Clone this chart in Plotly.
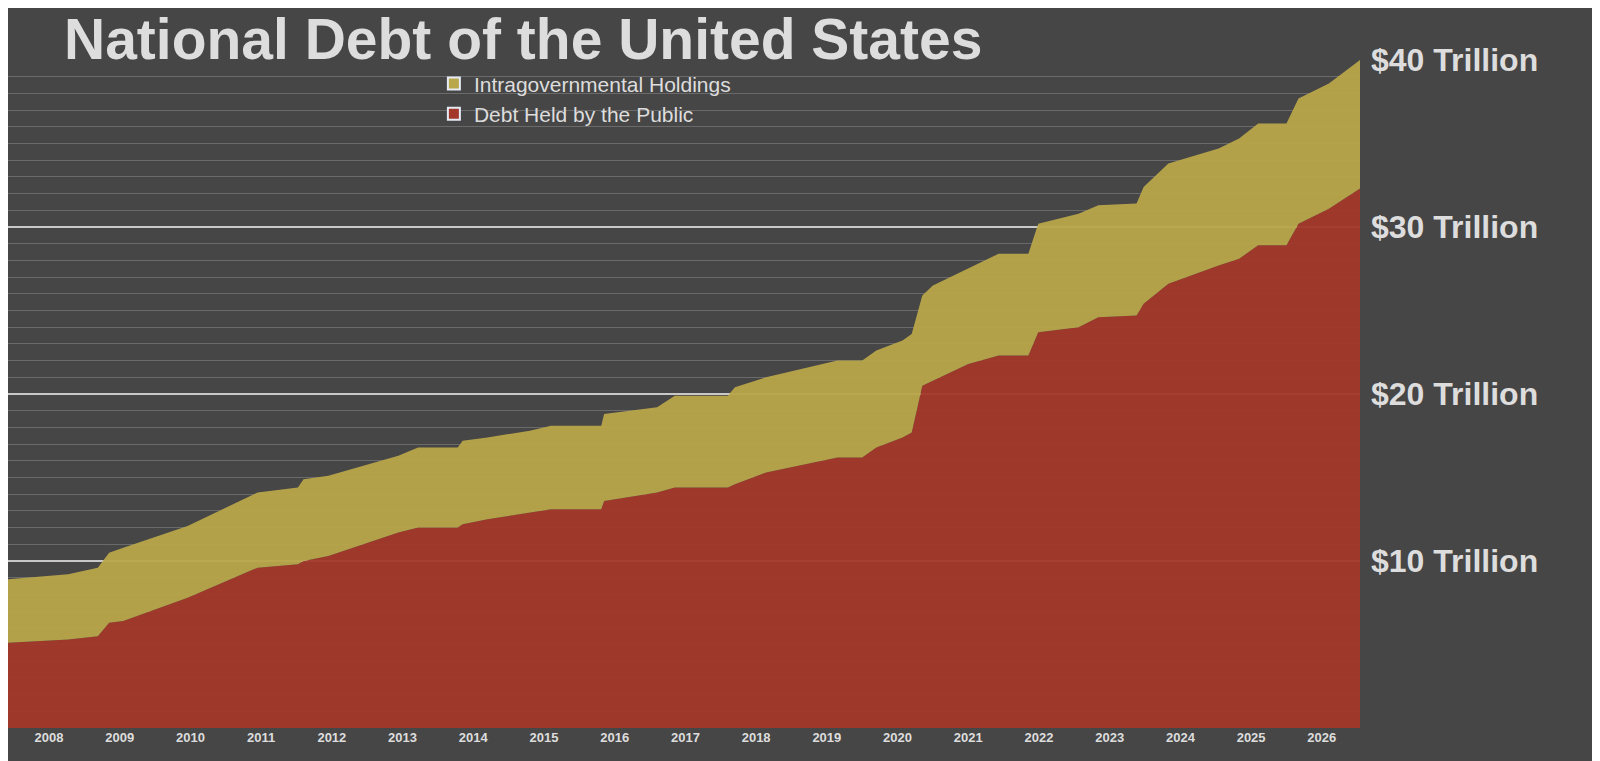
import plotly.graph_objects as go

years = [2007.42, 2008.27, 2008.69, 2008.85, 2009.05, 2009.96, 2010.95, 2011.52, 2011.6, 2011.95,
         2012.94, 2013.22, 2013.78, 2013.85, 2014.2, 2014.8, 2015.1, 2015.81, 2015.85, 2016.6,
         2016.85, 2017.6, 2017.7, 2018.14, 2019.15, 2019.5, 2019.7, 2020.07, 2020.2, 2020.35,
         2020.5, 2021.0, 2021.43, 2021.85, 2021.99, 2022.56, 2022.84, 2023.38, 2023.48, 2023.83,
         2024.54, 2024.83, 2025.1, 2025.5, 2025.67, 2026.1, 2026.54]
total = [8.9, 9.2, 9.6, 10.5, 10.8, 12.1, 14.1, 14.4, 14.9, 15.1,
         16.3, 16.8, 16.8, 17.2, 17.4, 17.8, 18.1, 18.1, 18.8, 19.2,
         19.9, 19.9, 20.4, 21.0, 22.0, 22.0, 22.6, 23.2, 23.6, 25.9,
         26.5, 27.5, 28.4, 28.4, 30.2, 30.8, 31.3, 31.4, 32.4, 33.8,
         34.7, 35.3, 36.2, 36.2, 37.7, 38.6, 40.0]
public = [5.1, 5.3, 5.5, 6.3, 6.4, 7.8, 9.6, 9.8, 10.0, 10.3,
          11.7, 12.0, 12.0, 12.2, 12.5, 12.9, 13.1, 13.1, 13.6, 14.1,
          14.4, 14.4, 14.6, 15.3, 16.2, 16.2, 16.8, 17.4, 17.7, 20.5,
          20.8, 21.8, 22.3, 22.3, 23.7, 24.0, 24.6, 24.7, 25.4, 26.6,
          27.7, 28.1, 28.9, 28.9, 30.2, 31.1, 32.3]
tick_years = list(range(2008, 2027))
y_ticks = [10, 20, 30, 40]
y_labels = ["<b>$10 Trillion</b>", "<b>$20 Trillion</b>", "<b>$30 Trillion</b>", "<b>$40 Trillion</b>"]

RED = "#a3382a"
GOLD = "#b9a74b"
fig = go.Figure()
fig.add_trace(go.Scatter(x=years, y=public, mode="lines", showlegend=False,
                         line=dict(width=0, color=RED), fill="tozeroy",
                         fillcolor="rgba(163,56,42,0.95)"))
fig.add_trace(go.Scatter(x=years, y=total, mode="lines", showlegend=False,
                         line=dict(width=0, color=GOLD), fill="tonexty",
                         fillcolor="rgba(185,167,75,0.95)"))
# legend entries as square swatches
fig.add_trace(go.Bar(x=[None], y=[None], name="Intragovernmental Holdings", marker_color=GOLD))
fig.add_trace(go.Bar(x=[None], y=[None], name="Debt Held by the Public", marker_color=RED))
fig.update_layout(
    width=1600, height=761, margin=dict(l=0, r=248, t=52, b=41),
    paper_bgcolor="#464646", plot_bgcolor="#464646",
    showlegend=True,
    legend=dict(x=0.315, y=0.995, xanchor="left", yanchor="top", traceorder="normal",
                font=dict(family="Liberation Sans, Arial", size=21, color="#dddddd"),
                bgcolor="rgba(0,0,0,0)", itemsizing="constant", tracegroupgap=0),
    title=dict(text="<b>National Debt of the United States</b>", x=0.035, xanchor="left",
               y=0.985, yanchor="top",
               font=dict(family="Liberation Sans, Arial", size=57, color="#dddddd")),
)
fig.update_xaxes(range=[2007.42, 2026.54], tickvals=tick_years, ticktext=["<b>%d</b>" % y for y in tick_years],
                 showgrid=False, zeroline=False, ticks="",
                 tickfont=dict(family="Liberation Sans, Arial", size=13, color="#dddddd"))
fig.update_yaxes(range=[0, 40], side="right", tickvals=y_ticks, ticktext=y_labels,
                 showgrid=True, gridcolor="#c8c8c8", gridwidth=2, zeroline=False,
                 minor=dict(dtick=1, showgrid=True, gridcolor="#6a6a6a", gridwidth=1),
                 tickfont=dict(family="Liberation Sans, Arial", size=32, color="#dddddd"),
                 ticklabelstandoff=10)
fig.write_html("out.html")
